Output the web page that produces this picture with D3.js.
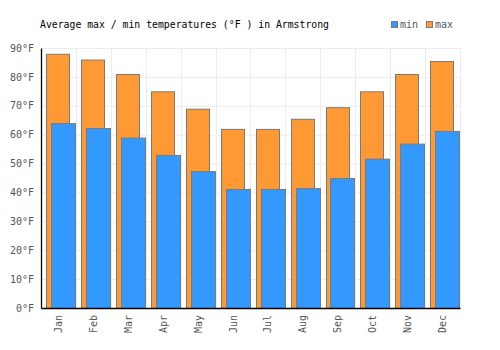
<!DOCTYPE html>
<html>
<head>
<meta charset="utf-8">
<script src="https://cdn.jsdelivr.net/npm/d3@7"></script>
<style>
  html, body { margin: 0; padding: 0; background: #fff; }
  svg { display: block; }
</style>
</head>
<body>
<div id="chart"></div>
<script>
// Average max / min temperatures in Armstrong — grouped, overlapping bars
const MONTHS = ["Jan", "Feb", "Mar", "Apr", "May", "Jun", "Jul", "Aug", "Sep", "Oct", "Nov", "Dec"];
const MAX_F = [88, 86, 81, 75, 69, 62, 62, 65.5, 69.5, 75, 81, 85.5];
const MIN_F = [64, 62.3, 59, 53, 47.4, 41.2, 41.2, 41.5, 45, 51.7, 56.9, 61.3];
const Y_TICKS = [0, 10, 20, 30, 40, 50, 60, 70, 80, 90];

const W = 500, H = 350, ML = 41, MR = 40, TOP = 48, BOT = 42;
const MONO = "'DejaVu Sans Mono', monospace";
const COL = { min: "#3399ff", max: "#ff9933", edge: "#7a7a7a", grid: "#ececec", ink: "#555" };

const svg = d3.select("#chart").append("svg").attr("width", W).attr("height", H);

const x = d3.scaleBand().domain(MONTHS).range([ML, W - MR]);
const y = d3.scaleLinear().domain([0, 90]).range([H - BOT, TOP]);
const bw = x.bandwidth();

// grid
svg.append("g").selectAll("line").data(Y_TICKS).join("line")
  .attr("x1", ML).attr("x2", W - MR)
  .attr("y1", d => y(d) + 0.5).attr("y2", d => y(d) + 0.5)
  .attr("stroke", COL.grid);
svg.append("g").selectAll("line").data(MONTHS).join("line")
  .attr("x1", d => Math.round(x(d) + bw) + 0.5)
  .attr("x2", d => Math.round(x(d) + bw) + 0.5)
  .attr("y1", TOP).attr("y2", H - BOT)
  .attr("stroke", COL.grid);

// bars: max behind, min in front offset to the right
svg.append("g").selectAll("rect").data(MAX_F).join("rect")
  .attr("x", (d, i) => Math.round(x(MONTHS[i]) + bw * 0.15) + 0.5)
  .attr("width", Math.round(bw * 0.67))
  .attr("y", d => y(d) + 0.5)
  .attr("height", d => y(0) - y(d))
  .attr("fill", COL.max).attr("stroke", COL.edge);
svg.append("g").selectAll("rect").data(MIN_F).join("rect")
  .attr("x", (d, i) => Math.round(x(MONTHS[i]) + bw * 0.29) + 0.5)
  .attr("width", Math.round(bw * 0.70))
  .attr("y", d => y(d) + 0.5)
  .attr("height", d => y(0) - y(d))
  .attr("fill", COL.min).attr("stroke", COL.edge);

// axes
const ya = svg.append("g").attr("transform", `translate(${ML},0)`)
  .call(d3.axisLeft(y).tickValues(Y_TICKS).tickSize(0).tickPadding(7).tickFormat(d => d + "°F"));
ya.select(".domain").attr("stroke", "#000").attr("stroke-width", 1.3);
ya.selectAll("text").attr("style", `font:10px ${MONO};fill:${COL.ink}`);

const xa = svg.append("g").attr("transform", `translate(0,${H - BOT})`)
  .call(d3.axisBottom(x).tickSize(0).tickPadding(0));
xa.select(".domain").attr("stroke", "#000").attr("stroke-width", 1.3);
xa.selectAll("text")
  .attr("style", `font:10px ${MONO};fill:${COL.ink}`)
  .attr("text-anchor", "end")
  .attr("dy", "0.35em")
  .attr("transform", "translate(0,7) rotate(-90)")
  .attr("x", 0).attr("y", 0);

// title
svg.append("text").attr("x", 40).attr("y", 28)
  .attr("style", `font:9.8px ${MONO};fill:#000`)
  .text("Average max / min temperatures (°F ) in Armstrong");

// legend
const lg = svg.append("g");
[["min", COL.min, 391], ["max", COL.max, 426]].forEach(([t, c, lx]) => {
  lg.append("rect").attr("x", lx + 0.5).attr("y", 21.5).attr("width", 6).attr("height", 6)
    .attr("fill", c).attr("stroke", COL.edge);
  lg.append("text").attr("x", lx + 9).attr("y", 28)
    .attr("style", `font:10px ${MONO};fill:${COL.ink}`).text(t);
});
</script>
</body>
</html>
